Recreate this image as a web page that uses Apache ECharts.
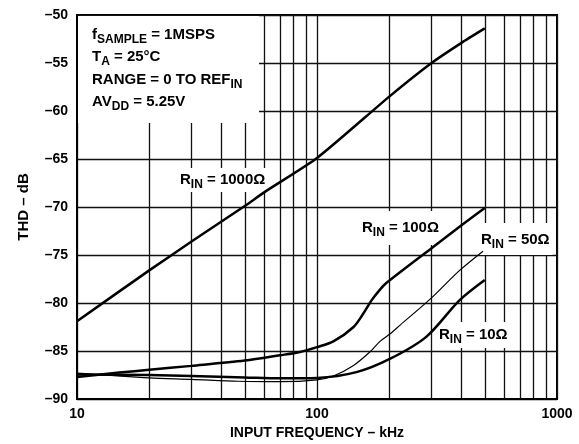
<!DOCTYPE html>
<html><head><meta charset="utf-8">
<script src="https://cdn.jsdelivr.net/npm/echarts@6/dist/echarts.min.js"></script>
<style>html,body{margin:0;padding:0;background:#fff}#c{width:579px;height:444px}</style>
</head><body><div id="c"></div>
<script>
// ---- data ----
const xMin = 10, xMax = 1000;
const yMin = -90, yMax = -50, yStep = 5;
const minorFreqs = [20, 30, 40, 50, 60, 70, 80, 90, 200, 300, 400, 500, 600, 700, 800, 900];
const rin1000 = [[10,-81.9],[20,-76.6],[30,-73.6],[50,-69.9],[60,-68.5],[100,-64.9],[200,-58.5],[300,-55.0],[400,-52.9],[500,-51.4]];
const rin100 = [[10,-87.7],[15,-87.25],[20,-86.95],[30,-86.55],[50,-86.0],[70,-85.45],[85,-85.1],[100,-84.6],[117,-84.0],[142,-82.5],[156,-81.1],[169,-79.7],[183,-78.6],[195,-77.9],[300,-74.3],[400,-71.9],[500,-70.1]];
const rin50 = [[10,-87.3],[20,-87.8],[30,-87.95],[47,-88.15],[70,-88.2],[100,-88.0],[117,-87.6],[142,-86.5],[166,-85.1],[183,-84.0],[202,-83.2],[222,-82.3],[296,-79.6],[393,-76.6],[492,-74.6]];
const rin10 = [[10,-87.45],[20,-87.5],[30,-87.6],[50,-87.75],[70,-87.85],[100,-87.8],[146,-87.2],[202,-85.8],[286,-83.5],[393,-79.7],[500,-77.6]];
const xTitle = 'INPUT FREQUENCY \u2013 kHz';
const yTitle = 'THD \u2013 dB';

// ---- styling ----
const FONT = '"Liberation Sans", Arial, Helvetica, sans-serif';
const rich = {
  m: {fontSize: 15, fontWeight: 'bold', fontFamily: FONT, color: '#000', lineHeight: 18},
  s: {fontSize: 12, fontWeight: 'bold', fontFamily: FONT, color: '#000', lineHeight: 12, padding: [10, 0, 0, 0]}
};
function label(x, y, text, pad) {
  return {type: 'text', x: x, y: y, zlevel: 1, z: 4, silent: true,
    style: {text: text, rich: rich, verticalAlign: 'middle', align: 'left',
      backgroundColor: pad ? '#fff' : null, padding: pad || 0}};
}

const chart = echarts.init(document.getElementById('c'));
chart.setOption({
  animation: false,
  backgroundColor: '#fff',
  grid: {left: 77, right: 22, top: 15, bottom: 45, show: true, borderColor: '#000', borderWidth: 2,
         backgroundColor: 'transparent', outerBoundsMode: 'none'},
  xAxis: {
    type: 'log', logBase: 10, min: xMin, max: xMax,
    name: xTitle, nameLocation: 'middle', nameGap: 22,
    nameTextStyle: {fontFamily: FONT, fontWeight: 'bold', fontSize: 14, color: '#000'},
    axisLine: {show: true, lineStyle: {color: '#000', width: 2}},
    axisTick: {show: false},
    axisLabel: {fontFamily: FONT, fontWeight: 'bold', fontSize: 14, color: '#000', margin: 8,
      formatter: v => String(Math.round(v))},
    splitLine: {show: true, lineStyle: {color: '#111', width: 1.3}},
    minorTick: {show: false}, minorSplitLine: {show: false}
  },
  yAxis: {
    type: 'value', min: yMin, max: yMax, interval: yStep,
    name: yTitle, nameLocation: 'middle', nameGap: 46, nameRotate: 90,
    nameTextStyle: {fontFamily: FONT, fontWeight: 'bold', fontSize: 15, color: '#000'},
    axisLine: {show: true, lineStyle: {color: '#000', width: 2}},
    axisTick: {show: false},
    axisLabel: {fontFamily: FONT, fontWeight: 'bold', fontSize: 14, color: '#000', margin: 9,
      formatter: v => String(v).replace('-', '\u2013')},
    splitLine: {show: true, lineStyle: {color: '#111', width: 1.3}}
  },
  graphic: [
    {type: 'rect', zlevel: 1, z: 3, silent: true, shape: {x: 78, y: 16, width: 181, height: 107}, style: {fill: '#fff'}},
    label(92, 35, '{m|f}{s|SAMPLE}{m| = 1MSPS}'),
    label(92, 57, '{m|T}{s|A}{m| = 25°C}'),
    label(92, 80, '{m|RANGE = 0 TO REF}{s|IN}'),
    label(92, 102, '{m|AV}{s|DD}{m| = 5.25V}'),
    label(176, 180, '{m|R}{s|IN}{m| = 1000\u03A9}', [3, 4, 3, 4]),
    label(358, 228, '{m|R}{s|IN}{m| = 100\u03A9}', [8, 4, 8, 4]),
    label(478, 239, '{m|R}{s|IN}{m| = 50\u03A9}', [8, 3, 6, 3]),
    label(435, 335, '{m|R}{s|IN}{m| = 10\u03A9}', [4, 4, 4, 4])
  ],
  series: [
    {type: 'line', zlevel: 0, z: 1, data: [[xMin, yMin]], symbol: 'none', lineStyle: {opacity: 0}, silent: true,
      markLine: {silent: true, symbol: 'none', label: {show: false}, animation: false,
        lineStyle: {color: '#111', width: 1.3, type: 'solid'},
        data: minorFreqs.map(f => ({xAxis: f}))}},
    {name: '1000', type: 'line', zlevel: 2, data: rin1000, symbol: 'none', smooth: 0.2,
      lineStyle: {color: '#000', width: 2.5}},
    {name: '100', type: 'line', zlevel: 2, data: rin100, symbol: 'none', smooth: 0.3,
      lineStyle: {color: '#000', width: 2.5}},
    {name: '50', type: 'line', zlevel: 2, data: rin50, symbol: 'none', smooth: 0.3,
      lineStyle: {color: '#000', width: 1.2}},
    {name: '10', type: 'line', zlevel: 2, data: rin10, symbol: 'none', smooth: 0.3,
      lineStyle: {color: '#000', width: 2.5}}
  ]
});
</script></body></html>
